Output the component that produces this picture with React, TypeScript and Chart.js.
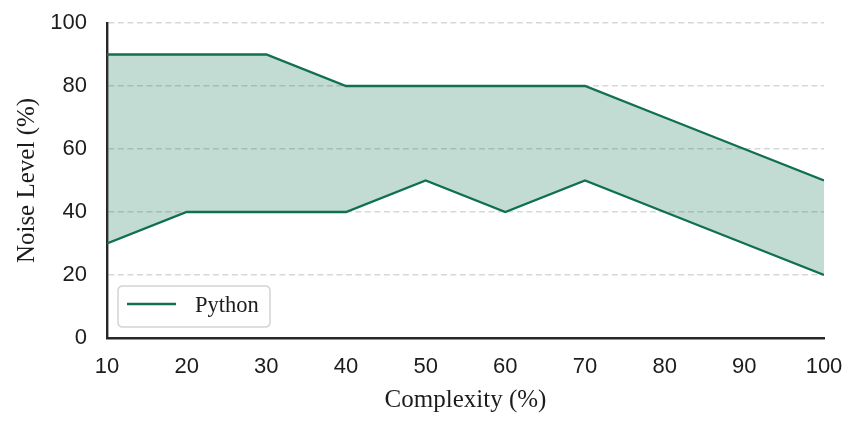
import React, { useEffect, useRef } from "react";
import { Chart, registerables } from "chart.js";

Chart.register(...registerables);

const complexity = [10, 20, 30, 40, 50, 60, 70, 80, 90, 100];
const upperNoise = [90, 90, 90, 80, 80, 80, 80, 70, 60, 50];
const lowerNoise = [30, 40, 40, 40, 50, 40, 50, 40, 30, 20];
const seriesLabel = "Python";
const xTitle = "Complexity (%)";
const yTitle = "Noise Level (%)";

const LINE = "rgb(16,112,80)";
const FILL = "rgba(11,115,79,0.25)";
const TEXT = "#1c1c1c";

const legendPlugin = {
  id: "insideLegend",
  afterDraw(chart: any) {
    const { ctx, chartArea } = chart;
    const ds = chart.data.datasets[0];
    const x = chartArea.left + 11;
    const h = 41;
    const w = 152;
    const y = chartArea.bottom - 11 - h;
    ctx.save();
    ctx.beginPath();
    const r = 5;
    ctx.moveTo(x + r, y);
    ctx.lineTo(x + w - r, y);
    ctx.quadraticCurveTo(x + w, y, x + w, y + r);
    ctx.lineTo(x + w, y + h - r);
    ctx.quadraticCurveTo(x + w, y + h, x + w - r, y + h);
    ctx.lineTo(x + r, y + h);
    ctx.quadraticCurveTo(x, y + h, x, y + h - r);
    ctx.lineTo(x, y + r);
    ctx.quadraticCurveTo(x, y, x + r, y);
    ctx.closePath();
    ctx.fillStyle = "rgba(255,255,255,0.85)";
    ctx.fill();
    ctx.strokeStyle = "#d4d4d4";
    ctx.lineWidth = 1.5;
    ctx.stroke();
    ctx.beginPath();
    ctx.moveTo(x + 9, y + 18);
    ctx.lineTo(x + 58, y + 18);
    ctx.strokeStyle = ds.borderColor;
    ctx.lineWidth = 2.4;
    ctx.stroke();
    ctx.fillStyle = TEXT;
    ctx.font = "22.5px 'Liberation Serif'";
    ctx.textBaseline = "middle";
    ctx.textAlign = "left";
    ctx.fillText(ds.label, x + 77, y + 20);
    ctx.restore();
  },
};

export default function App() {
  const ref = useRef<HTMLCanvasElement | null>(null);
  useEffect(() => {
    if (!ref.current) return;
    const chart = new Chart(ref.current, {
      type: "line",
      data: {
        datasets: [
          {
            label: seriesLabel,
            data: complexity.map((c, i) => ({ x: c, y: upperNoise[i] })),
            borderColor: LINE,
            backgroundColor: FILL,
            borderWidth: 2.4,
            pointRadius: 0,
            fill: "+1",
            tension: 0,
          },
          {
            label: "_lower",
            data: complexity.map((c, i) => ({ x: c, y: lowerNoise[i] })),
            borderColor: LINE,
            backgroundColor: FILL,
            borderWidth: 2.4,
            pointRadius: 0,
            fill: false,
            tension: 0,
          },
        ],
      },
      options: {
        animation: false,
        responsive: false,
        devicePixelRatio: 1,
        layout: { padding: { left: 0, right: 35, top: 23, bottom: 0 } },
        plugins: {
          legend: { display: false },
          tooltip: { enabled: false },
        },
        scales: {
          x: {
            type: "linear",
            min: 10,
            max: 100,
            afterFit: (s: any) => {
              s.height = 90;
              s.paddingLeft = 0;
              s.paddingRight = 0;
            },
            ticks: {
              stepSize: 10,
              autoSkip: false,
              maxRotation: 0,
              padding: 16,
              color: TEXT,
              font: { family: "'Liberation Sans'", size: 22 },
            },
            grid: { display: false, drawTicks: false },
            border: { display: true, color: "#262626", width: 2.4 },
            title: {
              display: true,
              text: xTitle,
              color: TEXT,
              font: { family: "'Liberation Serif'", size: 25 },
              padding: { top: 0, bottom: 13 },
            },
          },
          y: {
            min: 0,
            max: 100,
            z: 1,
            afterFit: (s: any) => {
              s.width = 107;
              s.paddingTop = 0;
              s.paddingBottom = 0;
            },
            ticks: {
              stepSize: 20,
              padding: 20,
              color: TEXT,
              font: { family: "'Liberation Sans'", size: 22 },
            },
            grid: {
              drawTicks: false,
              color: (c: any) => (c.tick && c.tick.value === 0 ? "rgba(0,0,0,0)" : "rgba(150,150,150,0.38)"),
              lineWidth: 1.5,
            },
            border: { display: true, color: "#262626", width: 2.4, dash: [6, 3.5] as any },
            title: {
              display: true,
              text: yTitle,
              color: TEXT,
              font: { family: "'Liberation Serif'", size: 25 },
              padding: { top: 12, bottom: 0 },
            },
          },
        },
      },
      plugins: [legendPlugin],
    } as any);
    return () => chart.destroy();
  }, []);
  return (
    <div style={{ position: "absolute", left: 0, top: 0, width: 859, height: 428 }}>
      <canvas ref={ref} width={859} height={428} style={{ width: 859, height: 428, display: "block" }} />
    </div>
  );
}
